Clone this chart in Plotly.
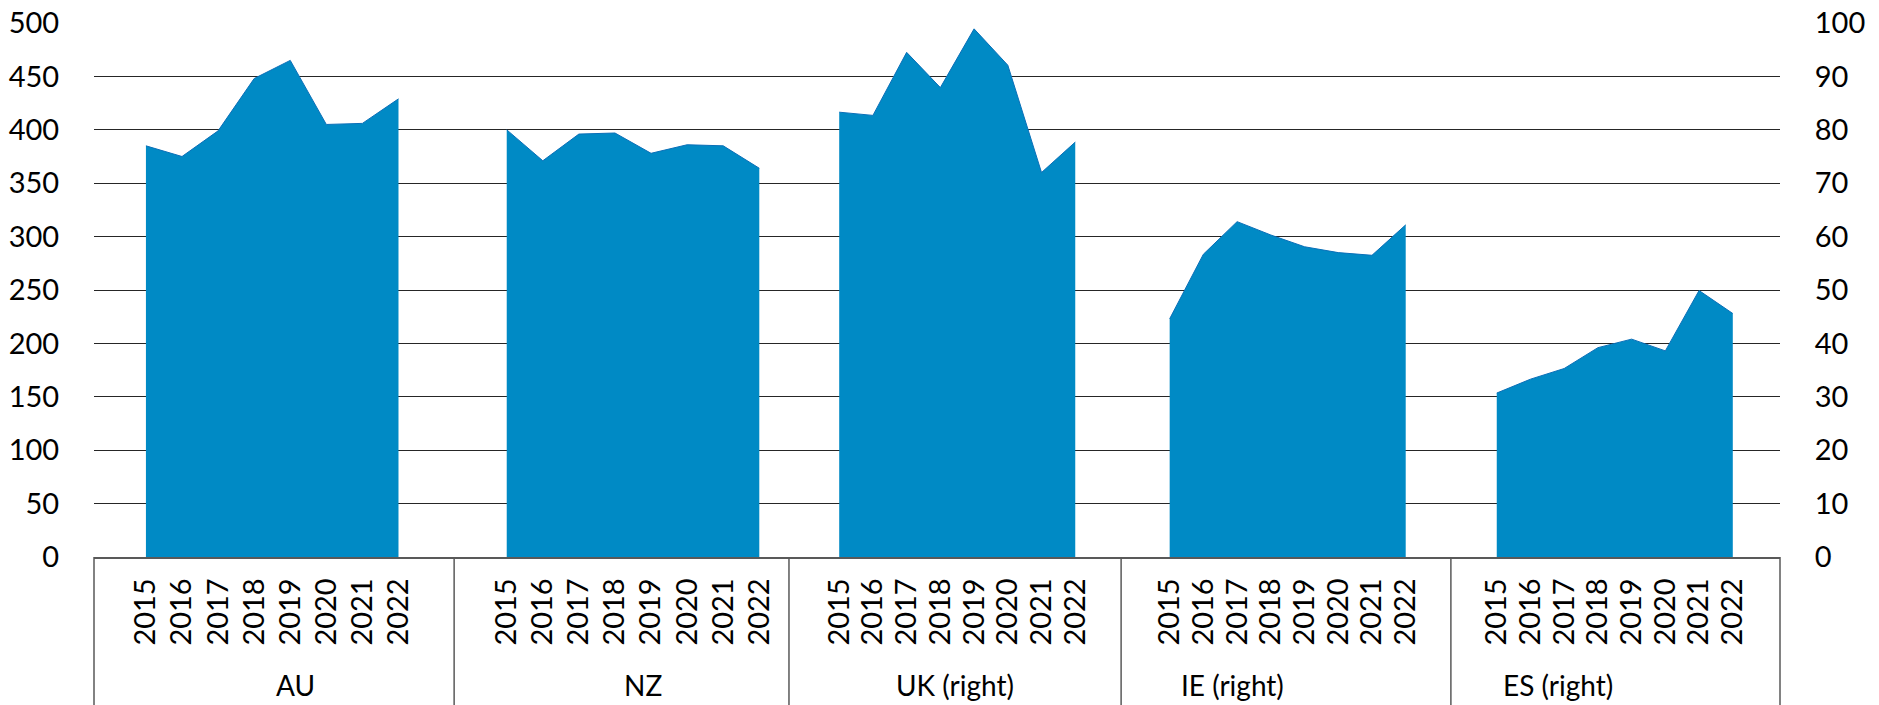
import plotly.graph_objects as go

# values
years = ["2015", "2016", "2017", "2018", "2019", "2020", "2021", "2022"]
groups = ["AU", "NZ", "UK (right)", "IE (right)", "ES (right)"]
au = [385, 375, 399, 448, 465, 405, 406, 429]
nz = [400, 371, 396, 397, 378, 386, 385, 364]
uk = [83.3, 82.7, 94.5, 87.9, 98.9, 92.1, 72.0, 77.7]
ie = [44.6, 56.7, 62.8, 60.3, 58.1, 57.0, 56.5, 62.2]
es = [30.7, 33.3, 35.3, 39.2, 40.8, 38.6, 49.9, 45.6]
series = [au, nz, uk, ie, es]
on_right = [False, False, True, True, True]

# category-axis layout (x units): group boundaries, first-year offset and year spacing
X_MAX = 50
edges = [0, 10.68, 20.61, 30.46, 40.24, 50]
starts = [1.54, 12.24, 22.1, 31.9, 41.6]
steps = [1.07, 1.07, 1.0, 1.0, 1.0]

FILL = "#008AC5"
EDGE = "#0A6FB8"
FONT = "Lato"

fig = go.Figure()
tickvals, ticktext = [], []
for g, (name, vals, right) in enumerate(zip(groups, series, on_right)):
    xs = [starts[g] + steps[g] * i for i in range(len(years))]
    tickvals += xs
    ticktext += years
    fig.add_trace(go.Scatter(
        x=xs, y=vals, mode="lines", fill="tozeroy",
        fillcolor=FILL, line=dict(color=EDGE, width=1),
        yaxis="y2" if right else "y", name=name, showlegend=False,
    ))

shapes = [
    dict(type="line", xref="paper", yref="paper", x0=e / X_MAX, x1=e / X_MAX, y0=0, y1=-0.3,
         line=dict(color="#595959", width=1.5))
    for e in edges
]

annotations = [
    dict(text=name, x=(edges[g] + edges[g + 1]) / 2 / X_MAX, y=-0.24, xref="paper", yref="paper",
         showarrow=False, font=dict(size=28, color="#000", family=FONT), yanchor="middle")
    for g, name in enumerate(groups)
]

fig.update_layout(
    width=1879, height=705,
    margin=dict(l=94, r=99, t=23, b=148),
    paper_bgcolor="white", plot_bgcolor="white",
    font=dict(family=FONT, size=29, color="#000"),
    xaxis=dict(range=[0, X_MAX], tickvals=tickvals, ticktext=ticktext, tickangle=-90,
               showgrid=False, zeroline=False, showline=True, linecolor="#595959", linewidth=1.5,
               ticks="outside", ticklen=8, tickcolor="rgba(0,0,0,0)", fixedrange=True,
               automargin=False),
    yaxis=dict(range=[0, 500], dtick=50, showgrid=True, gridcolor="#262626", gridwidth=1.2,
               zeroline=False, showline=False, ticks="outside", ticklen=28,
               tickcolor="rgba(0,0,0,0)", automargin=False),
    yaxis2=dict(range=[0, 100], dtick=10, overlaying="y", side="right", showgrid=False,
                zeroline=False, showline=False, ticks="outside", ticklen=28,
                tickcolor="rgba(0,0,0,0)", automargin=False),
    shapes=shapes,
    annotations=annotations,
)

# drop the default page margin so the figure sits at the window's corner
fig.write_html("out.html", config={"displayModeBar": False},
               post_script="document.body.style.margin='0';")
